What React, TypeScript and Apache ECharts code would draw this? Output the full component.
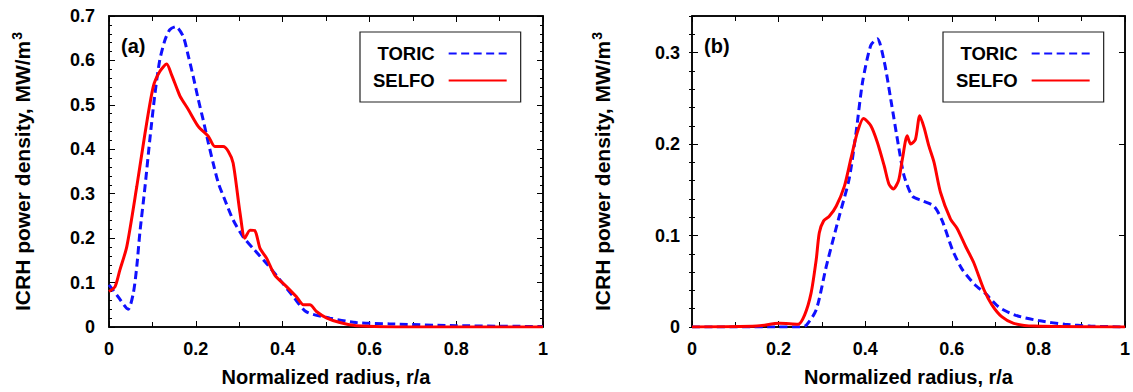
import React, { useEffect, useRef } from "react";
import * as echarts from "echarts";

// ---------- Data ----------
// Panel (a)
const toricA_r = [0, 0.021, 0.044, 0.056, 0.064, 0.071, 0.083, 0.094, 0.106, 0.117, 0.129, 0.14, 0.154, 0.171, 0.183, 0.194, 0.206, 0.217, 0.229, 0.24, 0.252, 0.267, 0.286, 0.309, 0.332, 0.363, 0.394, 0.425, 0.455, 0.509, 0.57, 0.647, 0.8, 1.0];
const toricA_p = [0.095, 0.068, 0.04, 0.076, 0.136, 0.211, 0.316, 0.421, 0.526, 0.601, 0.646, 0.669, 0.676, 0.654, 0.609, 0.564, 0.511, 0.466, 0.414, 0.369, 0.324, 0.286, 0.241, 0.203, 0.177, 0.143, 0.106, 0.068, 0.034, 0.02, 0.01, 0.007, 0.003, 0.001];

const selfoA_r = [0, 0.014, 0.025, 0.041, 0.064, 0.083, 0.102, 0.117, 0.133, 0.144, 0.156, 0.164, 0.183, 0.206, 0.229, 0.244, 0.263, 0.275, 0.286, 0.302, 0.313, 0.325, 0.336, 0.348, 0.363, 0.382, 0.409, 0.432, 0.448, 0.463, 0.478, 0.502, 0.532, 0.57, 0.7, 1.0];
const selfoA_p = [0.08, 0.091, 0.128, 0.181, 0.316, 0.436, 0.541, 0.575, 0.592, 0.568, 0.538, 0.519, 0.489, 0.451, 0.429, 0.406, 0.406, 0.395, 0.369, 0.256, 0.2, 0.218, 0.217, 0.177, 0.155, 0.117, 0.091, 0.068, 0.05, 0.05, 0.035, 0.02, 0.01, 0.003, 0, 0];

// Panel (b)
const toricB_r = [0, 0.2, 0.25, 0.264, 0.287, 0.31, 0.34, 0.363, 0.379, 0.394, 0.413, 0.428, 0.444, 0.459, 0.478, 0.49, 0.509, 0.532, 0.559, 0.578, 0.601, 0.624, 0.654, 0.677, 0.708, 0.746, 0.8, 0.861, 0.92, 1.0];
const toricB_p = [0, 0, 0, 0.002, 0.019, 0.066, 0.121, 0.162, 0.213, 0.268, 0.308, 0.315, 0.29, 0.249, 0.195, 0.165, 0.143, 0.138, 0.132, 0.116, 0.085, 0.063, 0.046, 0.037, 0.022, 0.013, 0.007, 0.003, 0.001, 0];

const selfoB_r = [0, 0.15, 0.202, 0.245, 0.26, 0.275, 0.287, 0.294, 0.304, 0.317, 0.333, 0.352, 0.367, 0.382, 0.396, 0.413, 0.428, 0.444, 0.455, 0.465, 0.477, 0.486, 0.497, 0.505, 0.516, 0.526, 0.536, 0.547, 0.559, 0.574, 0.597, 0.612, 0.632, 0.651, 0.674, 0.693, 0.716, 0.743, 0.79, 1.0];
const selfoB_p = [0, 0.001, 0.004, 0.003, 0.013, 0.037, 0.074, 0.103, 0.116, 0.121, 0.132, 0.154, 0.184, 0.213, 0.228, 0.22, 0.202, 0.176, 0.156, 0.151, 0.16, 0.184, 0.209, 0.2, 0.205, 0.231, 0.218, 0.198, 0.18, 0.147, 0.118, 0.108, 0.088, 0.07, 0.041, 0.024, 0.011, 0.004, 0.001, 0];

const seriesNames = ["TORIC", "SELFO"];
const panelLabels = ["(a)", "(b)"];
const xTitle = "Normalized radius, r/a";
const yTitle = "ICRH power density, MW/m{sup|3}";
const yMaxA = 0.7;
const yMaxB = 0.34;

// ---------- Chart ----------
const FONT = "Liberation Sans, Arial, Helvetica, sans-serif";
const BLACK = "#000";

function pairs(r: number[], p: number[]) {
  return r.map((v, i) => [v, p[i]]);
}

export default function App() {
  const ref = useRef<HTMLDivElement>(null);

  useEffect(() => {
    const chart = echarts.init(ref.current!, null, { renderer: "svg" });

    const tickLabel = {
      fontFamily: FONT,
      fontSize: 18,
      fontWeight: "bold" as const,
      color: BLACK,
    };
    const axisLine = { show: true, onZero: false, lineStyle: { color: BLACK, width: 1.5 } };
    const yNameStyle = {
      fontFamily: FONT,
      fontSize: 21,
      fontWeight: "bold",
      color: BLACK,
      rich: {
        sup: {
          fontFamily: FONT,
          fontSize: 14,
          fontWeight: "bold",
          color: BLACK,
          verticalAlign: "top",
          padding: [0, 0, 10, 1],
        },
      },
    };

    const xAxisFor = (gridIndex: number, position: "bottom" | "top") => ({
      type: "value",
      gridIndex,
      position,
      min: 0,
      max: 1,
      interval: 0.2,
      axisLine,
      axisTick: { show: true, inside: true, length: 6, lineStyle: { color: BLACK, width: 1 } },
      minorTick: { show: true, splitNumber: 2, length: 5, lineStyle: { color: BLACK, width: 1 } },
      splitLine: { show: false },
      axisLabel:
        position === "bottom"
          ? { ...tickLabel, margin: 13 }
          : { show: false },
      name: position === "bottom" ? xTitle : "",
      nameLocation: "middle",
      nameGap: 40,
      nameTextStyle: { fontFamily: FONT, fontSize: 20, fontWeight: "bold", color: BLACK },
    });

    const yAxisA = (position: "left" | "right") => ({
      type: "value",
      gridIndex: 0,
      position,
      min: 0,
      max: yMaxA,
      interval: 0.1,
      axisLine,
      axisTick: { show: true, inside: true, length: 6, lineStyle: { color: BLACK, width: 1 } },
      minorTick: { show: true, splitNumber: 5, length: 3, lineStyle: { color: BLACK, width: 1 } },
      splitLine: { show: false },
      axisLabel: position === "left" ? { ...tickLabel, margin: 14 } : { show: false },
      name: position === "left" ? yTitle : "",
      nameLocation: "middle",
      nameRotate: 90,
      nameGap: 75,
      nameTextStyle: yNameStyle,
    });

    const yAxisB = (position: "left" | "right", minor: boolean) => ({
      type: "value",
      gridIndex: 1,
      position,
      min: 0,
      max: yMaxB,
      interval: minor ? 0.02 : 0.1,
      axisLine: minor ? { show: false } : axisLine,
      axisTick: { show: true, inside: true, length: minor ? 3 : 6, lineStyle: { color: BLACK, width: 1 } },
      splitLine: { show: false },
      axisLabel:
        position === "left" && !minor
          ? { ...tickLabel, margin: 12, showMaxLabel: false }
          : { show: false },
      name: position === "left" && !minor ? yTitle : "",
      nameLocation: "middle",
      nameRotate: 90,
      nameGap: 78,
      nameTextStyle: yNameStyle,
    });

    const toricStyle = { color: "#1010ff", width: 3, type: [8, 4.5] as number[] };
    const selfoStyle = { color: "#ff0000", width: 3 };

    const mkSeries = (name: string, data: number[][], xi: number, yi: number, style: any, z: number) => ({
      type: "line",
      name,
      xAxisIndex: xi,
      yAxisIndex: yi,
      data,
      showSymbol: false,
      symbol: "none",
      smooth: 0.25,
      lineStyle: style,
      itemStyle: { color: style.color },
      z,
      silent: true,
    });

    const legendFor = (left: number) => ({
      orient: "vertical",
      left,
      top: 32,
      align: "right",
      itemWidth: 58,
      itemHeight: 14,
      itemGap: 8,
      padding: [12, 13, 12, 13],
      borderColor: "#222",
      borderWidth: 1.2,
      backgroundColor: "#fff",
      selectedMode: false,
      itemStyle: { color: "rgba(0,0,0,0)", borderWidth: 0, opacity: 0 },
      textStyle: {
        fontFamily: FONT,
        fontSize: 18.5,
        fontWeight: "bold",
        color: BLACK,
        padding: [0, 9, 0, 0],
      },
      data: seriesNames,
    });

    const option = {
      animation: false,
      backgroundColor: "#fff",
      grid: [
        { left: 109, top: 16, width: 434, height: 311, show: true, borderColor: BLACK, borderWidth: 1.5, backgroundColor: "transparent" },
        { left: 692, top: 16, width: 435, height: 311, show: true, borderColor: BLACK, borderWidth: 1.5, backgroundColor: "transparent" },
      ],
      xAxis: [xAxisFor(0, "bottom"), xAxisFor(0, "top"), xAxisFor(1, "bottom"), xAxisFor(1, "top")],
      yAxis: [
        yAxisA("left"),
        yAxisA("right"),
        yAxisB("left", false),
        yAxisB("left", true),
        yAxisB("right", false),
        yAxisB("right", true),
      ],
      legend: [legendFor(360), legendFor(943)],
      graphic: [
        {
          type: "text",
          left: 121,
          top: 36,
          style: { text: panelLabels[0], font: `bold 20px ${FONT}`, fill: BLACK },
        },
        {
          type: "text",
          left: 704,
          top: 36,
          style: { text: panelLabels[1], font: `bold 20px ${FONT}`, fill: BLACK },
        },
      ],
      series: [
        mkSeries(seriesNames[0], pairs(toricA_r, toricA_p), 0, 0, toricStyle, 2),
        mkSeries(seriesNames[1], pairs(selfoA_r, selfoA_p), 0, 0, selfoStyle, 3),
        mkSeries(seriesNames[0], pairs(toricB_r, toricB_p), 2, 2, toricStyle, 2),
        mkSeries(seriesNames[1], pairs(selfoB_r, selfoB_p), 2, 2, selfoStyle, 3),
      ],
    };

    chart.setOption(option as any);
    return () => chart.dispose();
  }, []);

  return (
    <div
      ref={ref}
      style={{ position: "fixed", left: 0, top: 0, width: 1133, height: 392, background: "#fff" }}
    />
  );
}
